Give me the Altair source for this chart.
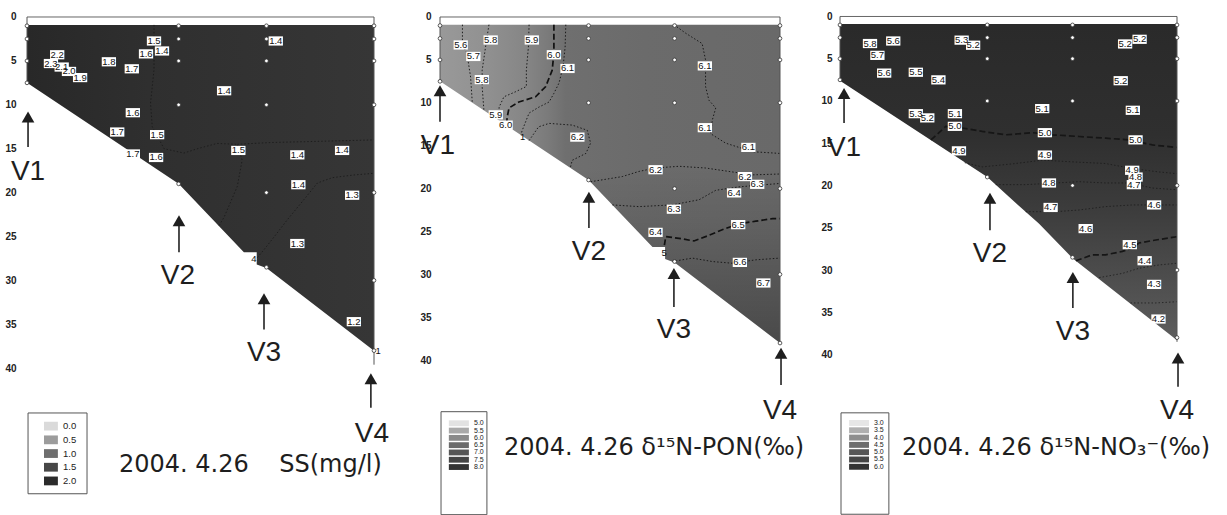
import altair as alt
import pandas as pd

# ---------------- data ----------------
TICKS = [0, 5, 10, 15, 20, 25, 30, 35, 40]
STATIONS = ["V1", "V2", "V3", "V4"]
STATION_X = [0.0, 0.437, 0.690, 1.0]          # relative distance along section
SAMPLE_DEPTHS = [[1, 2.5, 5, 7.5],
                 [1, 2.5, 5, 10, 19],
                 [1, 2.5, 5, 10, 20, 28.5],
                 [1, 2.5, 5, 10, 20, 30, 38]]
SURFACE = 0.9

BOTTOM_A_X = [0.0, 0.437, 0.625, 0.662, 0.6621, 0.690, 1.0]
BOTTOM_A_D = [7.5, 19.0, 26.8, 26.8, 28.2, 28.6, 38.0]
BOTTOM_B_X = [0.0, 0.437, 0.511, 0.590, 0.690, 1.0]
BOTTOM_B_D = [7.6, 19.0, 21.7, 24.5, 28.6, 38.3]

# Panel 1: SS (mg/l)
P1_LBL = ["1.5", "1.4", "1.6", "1.4", "2.3", "2.2", "2.1", "2.0", "1.9", "1.8", "1.7", "1.4",
          "1.6", "1.7", "1.5", "1.7", "1.6", "1.5", "1.4", "1.4", "1.4", "1.3", "1.3", "1.2"]
P1_LX = [0.366, 0.389, 0.343, 0.717, 0.069, 0.087, 0.100, 0.121, 0.153, 0.236, 0.302, 0.568,
         0.305, 0.260, 0.375, 0.305, 0.372, 0.609, 0.779, 0.908, 0.782, 0.937, 0.779, 0.942]
P1_LD = [2.73, 3.87, 4.2, 2.73, 5.3, 4.3, 5.7, 6.2, 6.9, 5.1, 5.9, 8.4,
         10.9, 13.1, 13.4, 15.6, 16.0, 15.2, 15.7, 15.2, 19.1, 20.3, 25.8, 34.7]
P1_PART = ["4", "1"]
P1_PX = [0.654, 1.012]
P1_PD = [27.6, 38.0]
P1_DASHED = []
P1_DOTTED = [
    [(0.366, 0.9), (0.366, 6.0), (0.356, 9.8), (0.361, 12.5), (0.395, 15.0), (0.452, 15.5),
     (0.491, 15.0), (0.548, 14.4), (0.606, 14.5), (0.620, 16.3), (0.606, 19.3), (0.568, 22.8),
     (0.553, 23.8)],
    [(0.664, 27.4), (0.683, 26.5), (0.721, 24.6), (0.750, 23.1), (0.798, 20.8), (0.837, 18.9),
     (0.880, 18.3), (0.940, 18.0), (1.0, 17.8)],
    [(0.606, 14.5), (0.700, 14.3), (0.800, 14.2), (0.900, 14.1), (1.0, 14.0)],
]
P1_LEG_VAL = ["0.0", "0.5", "1.0", "1.5", "2.0"]
P1_LEG_COL = ["#dadada", "#9c9c9c", "#6e6e6e", "#474747", "#2b2b2b"]

# Panel 2: d15N-PON
P2_LBL = ["5.6", "5.8", "5.9", "5.7", "6.0", "6.1", "6.1", "5.8", "5.9", "6.0", "6.2",
          "6.1", "6.1", "6.2", "6.2", "6.3", "6.4", "6.3", "6.4", "6.5", "6.6", "6.7"]
P2_LX = [0.061, 0.149, 0.270, 0.098, 0.335, 0.375, 0.779, 0.123, 0.164, 0.193, 0.404,
         0.779, 0.907, 0.634, 0.897, 0.933, 0.865, 0.688, 0.634, 0.877, 0.882, 0.951]
P2_LD = [3.26, 2.68, 2.68, 4.6, 4.4, 6.0, 5.7, 7.3, 11.4, 12.6, 14.0,
         12.9, 15.2, 17.8, 18.6, 19.5, 20.5, 22.4, 25.1, 24.2, 28.6, 31.0]
P2_PART = ["5", "1"]
P2_PX = [0.659, 0.243]
P2_PD = [27.5, 13.95]
P2_DASHED = [
    [(0.335, 0.9), (0.335, 4.2), (0.330, 6.2), (0.311, 8.1), (0.281, 9.3), (0.232, 9.9),
     (0.203, 10.6), (0.198, 11.6), (0.196, 12.3)],
    [(0.660, 26.6), (0.664, 25.6), (0.703, 25.8), (0.747, 26.1), (0.781, 25.6), (0.830, 24.8),
     (0.879, 24.1), (0.929, 23.8), (0.978, 23.5), (1.0, 23.5)],
]
P2_DOTTED = [
    [(0.066, 0.9), (0.066, 3.3), (0.079, 4.2), (0.090, 7.0), (0.095, 10.0)],
    [(0.144, 0.9), (0.134, 3.5), (0.124, 6.2), (0.124, 8.1), (0.129, 10.8)],
    [(0.262, 0.9), (0.260, 3.5), (0.254, 6.2), (0.254, 8.1), (0.223, 8.7), (0.188, 9.3),
     (0.174, 10.5), (0.172, 11.9)],
    [(0.370, 0.9), (0.368, 3.5), (0.362, 5.8), (0.350, 7.7), (0.335, 8.9), (0.321, 9.9),
     (0.291, 10.5), (0.262, 11.2), (0.242, 13.2), (0.238, 13.7)],
    [(0.262, 14.4), (0.290, 12.8), (0.321, 12.4), (0.389, 12.6), (0.433, 13.2), (0.443, 14.7),
     (0.429, 15.9), (0.389, 16.7), (0.383, 17.6)],
    [(0.688, 0.9), (0.723, 1.9), (0.771, 3.1), (0.781, 5.0), (0.781, 8.1), (0.791, 9.7),
     (0.811, 10.6), (0.801, 12.0), (0.796, 13.6), (0.840, 14.7), (0.919, 15.7), (1.0, 15.9)],
    [(0.443, 19.2), (0.536, 18.6), (0.585, 18.0), (0.634, 17.6), (0.703, 17.4), (0.781, 17.6),
     (0.850, 18.0), (0.919, 18.4), (1.0, 18.3)],
    [(0.507, 21.9), (0.585, 22.1), (0.683, 21.9), (0.762, 21.3), (0.811, 20.2), (0.879, 19.8),
     (0.938, 19.6), (1.0, 19.4)],
    [(0.683, 28.5), (0.742, 28.1), (0.801, 28.5), (0.860, 28.7), (0.929, 28.3), (1.0, 28.1)],
]
P2_LEG_VAL = ["5.0", "5.5", "6.0", "6.5", "7.0", "7.5", "8.0"]
P2_LEG_COL = ["#e2e2e2", "#a9a9a9", "#8a8a8a", "#6b6b6b", "#565656", "#454545", "#333333"]

# Panel 3: d15N-NO3
P3_LBL = ["5.8", "5.6", "5.7", "5.3", "5.2", "5.2", "5.2", "5.6", "5.5", "5.4", "5.2", "5.3",
          "5.2", "5.1", "5.0", "5.1", "5.1", "5.0", "5.0", "4.9", "4.9", "4.9", "4.8", "4.7",
          "4.8", "4.7", "4.6", "4.6", "4.5", "4.4", "4.3", "4.2"]
P3_LX = [0.089, 0.158, 0.111, 0.361, 0.395, 0.846, 0.889, 0.131, 0.225, 0.292, 0.833, 0.225,
         0.259, 0.341, 0.341, 0.600, 0.869, 0.608, 0.877, 0.353, 0.608, 0.867, 0.877, 0.872,
         0.620, 0.625, 0.932, 0.729, 0.860, 0.904, 0.932, 0.945]
P3_LD = [3.2, 2.9, 4.6, 2.8, 3.4, 3.25, 2.7, 6.7, 6.6, 7.5, 7.6, 11.5,
         12.0, 11.5, 13.0, 10.9, 11.1, 13.75, 14.6, 15.9, 16.4, 18.2, 19.0, 19.9,
         19.7, 22.6, 22.3, 25.1, 27.0, 28.9, 31.7, 35.8]
P3_PART = []
P3_PX = []
P3_PD = []
P3_DASHED = [
    [(0.270, 14.6), (0.314, 13.0), (0.363, 13.2), (0.422, 13.6), (0.492, 14.0), (0.571, 13.75),
     (0.630, 14.0), (0.709, 14.2), (0.788, 14.4), (0.858, 14.6), (0.927, 15.2), (1.0, 15.5)],
    [(0.700, 28.9), (0.749, 28.2), (0.788, 28.2), (0.838, 27.8), (0.868, 27.4), (0.887, 26.8),
     (0.937, 26.45), (1.0, 26.06)],
]
P3_DOTTED = [
    [(0.370, 17.3), (0.422, 17.8), (0.521, 17.4), (0.600, 17.0), (0.689, 17.2), (0.788, 17.4),
     (0.868, 18.0), (0.947, 18.4), (1.0, 18.6)],
    [(0.462, 19.9), (0.551, 19.9), (0.640, 19.7), (0.709, 19.55), (0.788, 19.7), (0.858, 19.7),
     (0.927, 20.3), (1.0, 20.5)],
    [(0.551, 23.1), (0.640, 23.1), (0.709, 22.9), (0.788, 22.5), (0.868, 22.3), (1.0, 22.3)],
    [(0.769, 30.9), (0.838, 30.4), (0.887, 29.8), (0.947, 29.4), (1.0, 29.2)],
    [(0.862, 33.9), (0.937, 33.9), (1.0, 33.75)],
]
P3_LEG_VAL = ["3.0", "3.5", "4.0", "4.5", "5.0", "5.5", "6.0"]
P3_LEG_COL = ["#e6e6e6", "#b0b0b0", "#8e8e8e", "#6e6e6e", "#565656", "#454545", "#333333"]

NB = "\u00a0"
P1_TITLE = "2004. 4.26" + NB * 4 + "SS(mg/l)"
P2_TITLE = "2004. 4.26 δ¹⁵N-PON(‰)"
P3_TITLE = "2004. 4.26 δ¹⁵N-NO₃⁻(‰)"

# annotation anchors (distance, depth)
P1_ARROW = dict(x=[0.003, 0.438, 0.683, 0.991], head=[11.4, 23.2, 32.1, 41.2],
                tail=[14.8, 26.8, 35.6, 44.5], lx=[0.003, 0.435, 0.683, 0.994],
                ld=[17.7, 29.5, 38.3, 47.5])
P2_ARROW = dict(x=[0.0, 0.438, 0.688, 1.003], head=[8.6, 21.0, 29.9, 39.2],
                tail=[12.2, 24.6, 33.8, 42.9], lx=[-0.006, 0.438, 0.688, 1.0],
                ld=[15.0, 27.4, 36.5, 45.9])
P3_ARROW = dict(x=[0.012, 0.445, 0.691, 1.003], head=[9.1, 21.5, 30.9, 40.4],
                tail=[12.6, 25.3, 34.5, 43.8], lx=[0.012, 0.445, 0.691, 1.0],
                ld=[15.6, 28.1, 37.3, 46.7])

BOX = "M-1.55,-1H1.55V1H-1.55Z"
TRI = "M0,-1L1.15,1L-1.15,1Z"
SANS = "Liberation Sans"
NO_VIEW = alt.ViewBackground(strokeWidth=0, strokeOpacity=0, stroke="transparent")


def grad(stops, vertical=False):
    g = dict(gradient="linear",
             stops=[alt.GradientStop(offset=o, color=c) for o, c in stops],
             x1=0, y1=0, x2=0 if vertical else 1, y2=1 if vertical else 0)
    return alt.Gradient(**g)


def lines_df(lines):
    rows = []
    for k, ln in enumerate(lines):
        for i, (x, d) in enumerate(ln):
            rows.append(dict(line=k, i=i, x=x, d=d))
    return pd.DataFrame(rows, columns=["line", "i", "x", "d"])


def panel(p):
    xs = alt.Scale(domain=[0, p["xmax"]], nice=False, zero=False)
    ys = alt.Scale(domain=[p["dmin"], p["dmax"]], reverse=True, nice=False, zero=False)
    yaxis = alt.Axis(values=TICKS, ticks=False, domain=False, domainOpacity=0, grid=False,
                     labelFont=SANS, labelFontSize=10, labelFontWeight="bold", labelColor="#222",
                     labelPadding=p["lpad"], labelFlush=False, labelOverlap=False, title=None)

    def X(f="x"):
        return alt.X(f"{f}:Q", scale=xs, axis=None, title=None)

    def Y(f="d"):
        return alt.Y(f"{f}:Q", scale=ys, axis=yaxis, title=None)

    layers = []
    bottom = pd.DataFrame({"x": p["bx"], "d": p["bd"]})
    bottom["top"] = SURFACE
    for g in p["fills"]:
        layers.append(alt.Chart(bottom).mark_area(color=g, interpolate="linear")
                      .encode(x=X(), y=Y(), y2=alt.Y2("top:Q")))

    dotted = lines_df(p["dotted"])
    if len(dotted):
        layers.append(alt.Chart(dotted).mark_line(color=p["lc"], strokeWidth=0.9,
                                                  strokeDash=[1.5, 2], opacity=p["lo"])
                      .encode(x=X(), y=Y(), detail="line:N", order="i:Q"))
    dashed = lines_df(p["dashed"])
    if len(dashed):
        layers.append(alt.Chart(dashed).mark_line(color=p["lc"], strokeWidth=1.7,
                                                  strokeDash=[6, 3])
                      .encode(x=X(), y=Y(), detail="line:N", order="i:Q"))

    # frame lines
    top = pd.DataFrame({"x": [0.0], "x2": [1.0], "d": [0.0]})
    layers.append(alt.Chart(top).mark_rule(color="#666", strokeWidth=1)
                  .encode(x=X(), x2=alt.X2("x2:Q"), y=Y()))
    sides = pd.DataFrame({"x": [0.0, 1.0], "d": [0.0, 0.0], "d2": [p["bd"][0], p["redge"]]})
    layers.append(alt.Chart(sides).mark_rule(color="#555", strokeWidth=1)
                  .encode(x=X(), y=Y(), y2=alt.Y2("d2:Q")))

    # sample points
    pts = pd.DataFrame([dict(x=STATION_X[i], d=d) for i in range(4) for d in SAMPLE_DEPTHS[i]])
    layers.append(alt.Chart(pts).mark_point(shape="circle", filled=True, fill="white",
                                            stroke="#333", strokeWidth=0.8, size=14, opacity=1)
                  .encode(x=X(), y=Y()))

    # contour labels
    lab = pd.DataFrame({"x": p["lx"], "d": p["ld"], "t": p["lbl"]})
    layers.append(alt.Chart(lab).mark_point(shape=BOX, filled=True, fill="white", size=85,
                                            opacity=1, strokeWidth=0)
                  .encode(x=X(), y=Y()))
    layers.append(alt.Chart(lab).mark_text(font=SANS, fontSize=9.5, color="#111",
                                           baseline="middle", align="center")
                  .encode(x=X(), y=Y(), text="t:N"))
    if p["part"]:
        part = pd.DataFrame({"x": p["px"], "d": p["pd"], "t": p["part"]})
        layers.append(alt.Chart(part).mark_text(font=SANS, fontSize=9.5, color="#111",
                                                baseline="middle", align="center")
                      .encode(x=X(), y=Y(), text="t:N"))

    # station arrows
    a = p["arrow"]
    arr = pd.DataFrame({"x": a["x"], "head": a["head"], "tail": a["tail"],
                        "lx": a["lx"], "ld": a["ld"], "s": STATIONS})
    layers.append(alt.Chart(arr).mark_rule(color="#222", strokeWidth=1.6)
                  .encode(x=X(), y=Y("head"), y2=alt.Y2("tail:Q")))
    layers.append(alt.Chart(arr).mark_point(shape=TRI, filled=True, color="#1e1e1e",
                                            size=121, opacity=1)
                  .encode(x=X(), y=Y("head")))
    layers.append(alt.Chart(arr).mark_text(font=SANS, fontSize=28, color="#1e1e1e",
                                           baseline="middle", align="center")
                  .encode(x=X("lx"), y=Y("ld"), text="s:N"))

    # title
    tt = pd.DataFrame({"x": [p["tx"]], "d": [p["td"]], "t": [p["title"]]})
    layers.append(alt.Chart(tt).mark_text(font="DejaVu Sans", fontSize=p["tfs"], color="#1e1e1e",
                                          baseline="middle", align="left")
                  .encode(x=X(), y=Y(), text="t:N"))

    # legend
    lg = p["leg"]
    box = pd.DataFrame({"x": [lg["bx"][0]], "x2": [lg["bx"][1]],
                        "d": [lg["bd"][0]], "d2": [lg["bd"][1]]})
    layers.append(alt.Chart(box).mark_rect(fill="white", stroke="#555", strokeWidth=1)
                  .encode(x=X(), x2=alt.X2("x2:Q"), y=Y(), y2=alt.Y2("d2:Q")))
    n = len(lg["val"])
    rows = [lg["r0"] + lg["dr"] * i for i in range(n)]
    sw = pd.DataFrame({"x": [lg["sx"][0]] * n, "x2": [lg["sx"][1]] * n,
                       "d": [r - lg["h"] for r in rows], "d2": [r + lg["h"] for r in rows],
                       "c": lg["col"], "v": lg["val"], "r": rows, "lx": [lg["lx"]] * n})
    layers.append(alt.Chart(sw).mark_rect()
                  .encode(x=X(), x2=alt.X2("x2:Q"), y=Y(), y2=alt.Y2("d2:Q"),
                          color=alt.Color("c:N", scale=None)))
    layers.append(alt.Chart(sw).mark_text(font=SANS, fontSize=lg["fs"], color="#222",
                                          baseline="middle", align="left")
                  .encode(x=X("lx"), y=Y("r"), text="v:N"))

    return alt.layer(*layers).properties(width=p["width"], height=515, view=NO_VIEW)


p1 = dict(xmax=403 / 347, width=403, dmin=-1.936, dmax=56.72, lpad=11,
          bx=BOTTOM_A_X, bd=BOTTOM_A_D, redge=39.6,
          fills=[grad([(0, "#282828"), (0.35, "#2f2f2f"), (1, "#363636")])],
          lc="#151515", lo=0.8,
          dotted=P1_DOTTED, dashed=P1_DASHED,
          lbl=P1_LBL, lx=P1_LX, ld=P1_LD, part=P1_PART, px=P1_PX, pd=P1_PD,
          arrow=P1_ARROW, title=P1_TITLE, tx=0.265, td=51.0, tfs=24,
          leg=dict(val=P1_LEG_VAL, col=P1_LEG_COL, bx=[0.003, 0.173], bd=[45.1, 54.3],
                   sx=[0.049, 0.089], lx=0.104, r0=46.6, dr=1.56, h=0.5, fs=9.5))
p2 = dict(xmax=390 / 340, width=390, dmin=-1.98, dmax=58.04, lpad=9,
          bx=BOTTOM_A_X, bd=BOTTOM_A_D, redge=37.9,
          fills=[grad([(0, "#999999"), (0.12, "#929292"), (0.25, "#868686"), (0.32, "#7a7a7a"),
                       (0.37, "#6f6f6f"), (0.6, "#6b6b6b"), (1, "#696969")]),
                 grad([(0, "rgba(0,0,0,0)"), (0.45, "rgba(0,0,0,0)"), (0.62, "rgba(0,0,0,0.08)"),
                       (1, "rgba(0,0,0,0.3)")], vertical=True)],
          lc="#111", lo=1,
          dotted=P2_DOTTED, dashed=P2_DASHED,
          lbl=P2_LBL, lx=P2_LX, ld=P2_LD, part=P2_PART, px=P2_PX, pd=P2_PD,
          arrow=P2_ARROW, title=P2_TITLE, tx=0.188, td=50.2, tfs=24,
          leg=dict(val=P2_LEG_VAL, col=P2_LEG_COL, bx=[0.003, 0.138], bd=[46.0, 58.0],
                   sx=[0.026, 0.085], lx=0.100, r0=47.35, dr=0.85, h=0.34, fs=7))
p3 = dict(xmax=380 / 337, width=380, dmin=-1.95, dmax=58.99, lpad=8,
          bx=BOTTOM_B_X, bd=BOTTOM_B_D, redge=38.5,
          fills=[grad([(0, "#2a2a2a"), (0.35, "#2f2f2f"), (0.57, "#3b3b3b"), (0.75, "#494949"),
                       (0.94, "#585858"), (1, "#5e5e5e")], vertical=True)],
          lc="#161616", lo=0.8,
          dotted=P3_DOTTED, dashed=P3_DASHED,
          lbl=P3_LBL, lx=P3_LX, ld=P3_LD, part=P3_PART, px=P3_PX, pd=P3_PD,
          arrow=P3_ARROW, title=P3_TITLE, tx=0.184, td=51.1, tfs=24,
          leg=dict(val=P3_LEG_VAL, col=P3_LEG_COL, bx=[0.003, 0.145], bd=[46.9, 58.9],
                   sx=[0.027, 0.086], lx=0.101, r0=48.1, dr=0.864, h=0.35, fs=7))

chart = alt.hconcat(panel(p1), panel(p2), panel(p3), spacing=10, bounds="flush",
                    padding={"left": 4, "top": 0, "right": 0, "bottom": 0}
                    ).configure_view(strokeWidth=0, strokeOpacity=0, stroke="transparent"
                    ).configure_axis(domain=False, domainOpacity=0, ticks=False, grid=False
                    ).configure(background="white")

chart.save("out.html", embed_options={"renderer": "svg", "actions": False})
